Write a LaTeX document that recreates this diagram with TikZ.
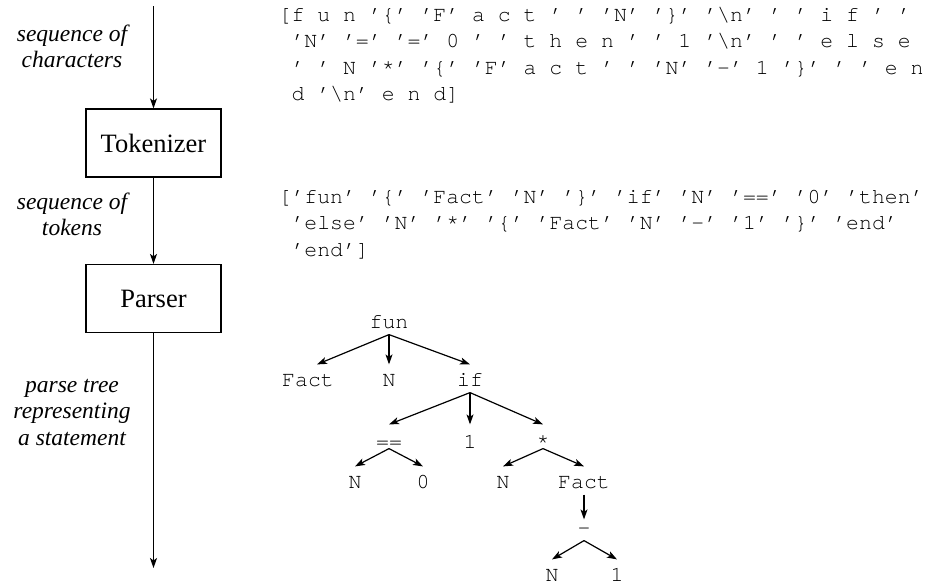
\documentclass[tikz,border=0pt]{standalone}
\usepackage{fontspec}
\setmainfont{Liberation Serif}
\newfontfamily\codefont{TeX Gyre Cursor}
\usetikzlibrary{arrows.meta}
\begin{document}
\begin{tikzpicture}[x=1pt,y=-1pt,line width=1.2pt,
  >={Stealth[length=10pt,width=7pt,inset=2.5pt]},
  box/.style={draw,minimum width=135pt,minimum height=68pt,inner sep=0pt,
    font=\fontsize{26.5}{30}\selectfont},
  lbl/.style={anchor=base,inner sep=0pt,font=\fontsize{23.5}{26.5}\selectfont\itshape},
  code/.style={anchor=base west,inner sep=0pt,font=\codefont\fontsize{21.5}{26.5}\selectfont},
  tn/.style={anchor=base,inner sep=0pt,text height=21pt,text depth=6pt,
    font=\codefont\fontsize{21.5}{26}\selectfont},
  tnop/.style={tn,text height=23pt,text depth=0pt},
  tnmin/.style={tn,text height=14pt}]
\useasboundingbox (0,0) rectangle (928,584);
% left pipeline
\node[box] (tok) at (153.5,143) {Tokenizer};
\node[box] (par) at (153.5,298.5) {Parser};
\coordinate (top) at (153.5,6);
\coordinate (bot) at (153.5,568);
\draw[->] (top) -- (tok);
\draw[->] (tok) -- (par);
\draw[->] (par) -- (bot);
\node[lbl] (lchars) at (72,41) {\begin{tabular}[t]{@{}c@{}}sequence of\\characters\end{tabular}};
\node[lbl] (ltoks) at (72,209) {\begin{tabular}[t]{@{}c@{}}sequence of\\tokens\end{tabular}};
\node[lbl] (ltree) at (72,392) {\begin{tabular}[t]{@{}c@{}}parse tree\\representing\\a statement\end{tabular}};
% character sequence
\node[code] (chars) at (278,21) {\begin{tabular}[t]{@{}l@{}}
[f u n ’\{’ ’F’ a c t ’ ’ ’N’ ’\}’ ’\textbackslash n’ ’ ’ i f ’ ’\\
\hspace*{0.6em}’N’ ’=’ ’=’ 0 ’ ’ t h e n ’ ’ 1 ’\textbackslash n’ ’ ’ e l s e\\
\hspace*{0.6em}’ ’ N ’*’ ’\{’ ’F’ a c t ’ ’ ’N’ ’-’ 1 ’\}’ ’ ’ e n\\
\hspace*{0.6em}d ’\textbackslash n’ e n d]\end{tabular}};
% token sequence
\node[code] (toks) at (278,203) {\begin{tabular}[t]{@{}l@{}}
[’fun’ ’\{’ ’Fact’ ’N’ ’\}’ ’if’ ’N’ ’==’ ’0’ ’then’\\
\hspace*{0.6em}’else’ ’N’ ’*’ ’\{’ ’Fact’ ’N’ ’-’ ’1’ ’\}’ ’end’\\
\hspace*{0.6em}’end’]\end{tabular}};
% parse tree
\node[tn] (fun) at (389,328) {fun};
\node[tn] (fact1) at (308,386) {Fact};
\node[tn] (n1) at (389,386) {N};
\node[tn] (if) at (470,386) {if};
\node[tnop] (eq) at (389,448) {==};
\node[tnop] (one1) at (470,448) {1};
\node[tnop] (star) at (543,448) {*};
\node[tn] (n2) at (355,488) {N};
\node[tn] (zero) at (423,488) {0};
\node[tn] (n3) at (503,488) {N};
\node[tn] (fact2) at (584,488) {Fact};
\node[tnmin] (minus) at (584,534) {-};
\node[tn] (n4) at (552,581) {N};
\node[tn] (one2) at (617,581) {1};
\draw[->] (fun.south) -- ([xshift=9pt]fact1.north);
\draw[->] (fun.south) -- (n1.north);
\draw[->] (fun.south) -- (if.north);
\draw[->] (if.south) -- (eq.north);
\draw[->] (if.south) -- (one1.north);
\draw[->] (if.south) -- (star.north);
\draw[->] (eq.south) -- (n2.north);
\draw[->] (eq.south) -- (zero.north);
\draw[->] (star.south) -- (n3.north);
\draw[->] (star.south) -- (fact2.north);
\draw[->] (fact2.south) -- (minus.north);
\draw[->] (minus.south) -- (n4.north);
\draw[->] (minus.south) -- (one2.north);
\end{tikzpicture}
\end{document}
